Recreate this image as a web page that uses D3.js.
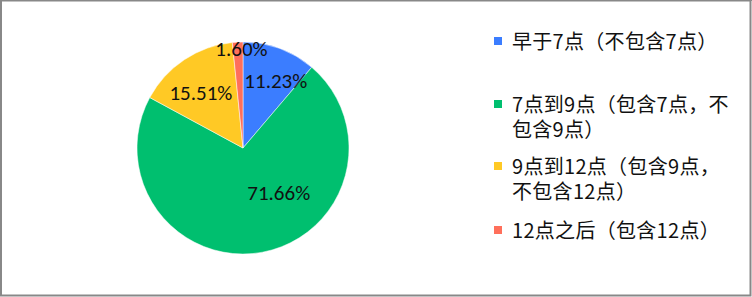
<!DOCTYPE html>
<html>
<head>
<meta charset="utf-8">
<script src="https://cdn.jsdelivr.net/npm/d3@7"></script>
<style>
  html, body { margin: 0; padding: 0; background: #fff; }
  svg { display: block; }
</style>
</head>
<body>
<svg id="chart" width="752" height="297"></svg>
<script>
// chart data
const categories = ['早于7点（不包含7点）', '7点到9点（包含7点，不包含9点）', '9点到12点（包含9点，不包含12点）', '12点之后（包含12点）'];
// legend text as it is wrapped in the original
const legendLines = [
    ['早于7点（不包含7点）'],
    ['7点到9点（包含7点，不', '包含9点）'],
    ['9点到12点（包含9点，', '不包含12点）'],
    ['12点之后（包含12点）']
];
const shares = [11.23, 71.66, 15.51, 1.60];
const colors = ['#3B7DFF', '#00BF6F', '#FFC925', '#FF6F5B'];

// label placement (radius fraction, angle nudge in degrees) - mimics the excel "best fit"
const labelLayout = [[0.70, 6], [0.54, -28], [0.65, -4], [0.93, 2]];

const width = 752, height = 297;
const svg = d3.select('#chart');

// frame
svg.append('rect')
    .attr('x', 1).attr('y', 0.5)
    .attr('width', width - 2.5).attr('height', height - 2)
    .attr('fill', '#fff')
    .attr('stroke', '#888')
    .attr('stroke-width', 2);
svg.append('line')
    .attr('x1', 0).attr('x2', width).attr('y1', 0.5).attr('y2', 0.5)
    .attr('stroke', '#888').attr('stroke-width', 1);

const cx = 243, cy = 148, radius = 106;

const pie = d3.pie().sort(null).value(d => d);
const arcs = pie(shares);
const arc = d3.arc().innerRadius(0).outerRadius(radius);

const g = svg.append('g').attr('transform', `translate(${cx},${cy})`);

g.selectAll('path.slice')
    .data(arcs)
    .enter()
    .append('path')
    .attr('class', 'slice')
    .attr('d', arc)
    .attr('fill', (d, i) => colors[i])
    .attr('stroke', '#fff')
    .attr('stroke-width', 0.5);

// percentage labels
g.selectAll('text.pct')
    .data(arcs)
    .enter()
    .append('text')
    .attr('class', 'pct')
    .attr('transform', (d, i) => {
        const [k, nudge] = labelLayout[i];
        const a = (d.startAngle + d.endAngle) / 2 + nudge * Math.PI / 180;
        const r = radius * k;
        return `translate(${Math.sin(a) * r},${-Math.cos(a) * r})`;
    })
    .attr('text-anchor', 'middle')
    .attr('dy', '0.33em')
    .attr('font-family', 'Carlito, "Noto Sans", sans-serif')
    .attr('font-size', 21)
    .attr('fill', '#111')
    .text(d => d.data.toFixed(2) + '%');

// legend
const legendX = 494, textX = 512, lineH = 25;
const legendY = [41, 104, 166, 230];

const legend = svg.append('g')
    .attr('font-family', '"Noto Sans CJK SC", sans-serif')
    .attr('font-size', 20)
    .attr('fill', '#111');

categories.forEach((name, i) => {
    legend.append('rect')
        .attr('x', legendX)
        .attr('y', legendY[i] - 4)
        .attr('width', 8).attr('height', 8)
        .attr('fill', colors[i]);

    // each wrapped line is its own tspan; first one centred on the swatch
    legend.append('text')
        .attr('x', textX)
        .attr('y', legendY[i])
        .attr('letter-spacing', 0.3)
        .selectAll('tspan')
        .data(legendLines[i])
        .enter()
        .append('tspan')
        .attr('x', textX)
        .attr('dy', (d, j) => j === 0 ? 7.5 : lineH)
        .text(d => d);
});
</script>
</body>
</html>
